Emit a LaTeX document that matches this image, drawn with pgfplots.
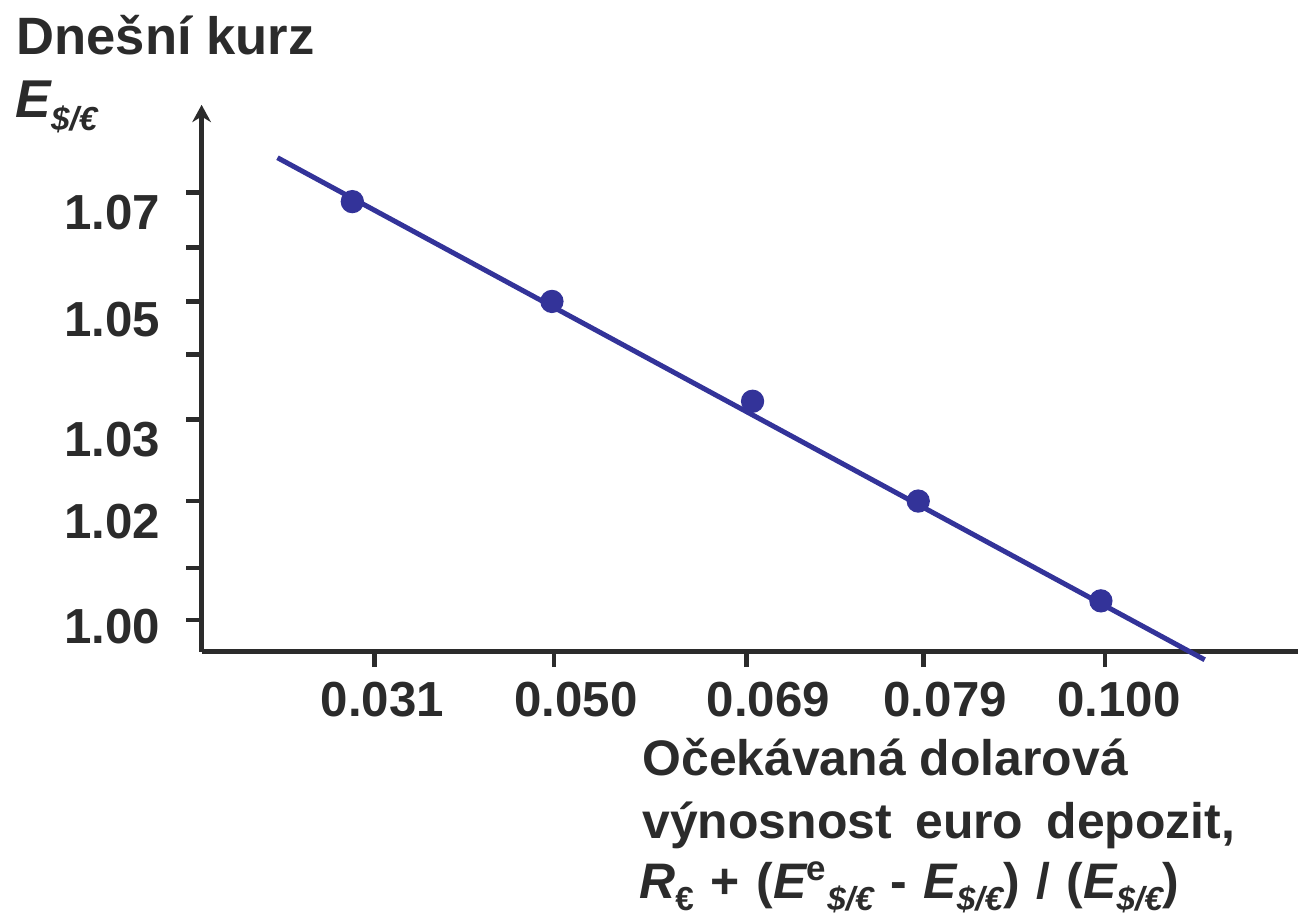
\documentclass[border=0pt]{standalone}
\usepackage{pgfplots}
\pgfplotsset{compat=1.18}
\usepackage{fontspec}
\setmainfont{Liberation Sans}
\usetikzlibrary{arrows.meta}
\definecolor{ink}{HTML}{2B2B2B}
\definecolor{curve}{HTML}{333399}
% lowered small subscript as in the slide
\newcommand\sub[1]{\raisebox{-3.8pt}{\fontsize{10}{11}\selectfont #1}}
\newcommand\wsp{\hspace{7pt}}

\begin{document}
\begin{tikzpicture}
\begin{axis}[
  x=0.3pt, y=0.3pt,
  xmin=202, xmax=1300, ymin=263, ymax=811,
  axis lines*=left,
  axis line style={ink, line width=1.5pt},
  y axis line style={-{Stealth[length=5.2pt,width=5.6pt]}},
  tick align=outside,
  major tick length=4.6pt,
  tick style={ink, line width=1.4pt},
  xtick={375,555,748,925,1107}, xticklabels={},
  ytick={295,347,414,496,561,614,668,723}, yticklabels={},
  extra x ticks={383,577,770,947,1121},
  extra x tick labels={0.031,0.050,0.069,0.079,0.100},
  extra y ticks={271,376,459,579,686},
  extra y tick labels={1.00,1.02,1.03,1.05,1.07},
  extra x tick style={major tick length=0pt,
    xticklabel style={anchor=base, yshift=-19.5pt}},
  extra y tick style={major tick length=0pt,
    yticklabel style={anchor=base east, xshift=-12.3pt}},
  tick label style={font=\bfseries\fontsize{14.8}{17}\selectfont, text=ink, inner sep=0pt},
  clip=false,
]
\path (axis cs:0,0) rectangle (axis cs:1300,916);

% demand curve for euro deposits
\addplot[curve, line width=1.5pt] coordinates {(278,758) (1207,255)};
\addplot[curve, only marks, mark=*, mark size=3.3pt] coordinates {
  (353,714) (553,614) (754,514) (920,414) (1103,314)};

\node[anchor=base west, inner sep=0pt, text=ink, font=\bfseries\fontsize{15.8}{18}\selectfont]
  at (axis cs:16,861) {Dnešní kurz};
\node[anchor=base west, inner sep=0pt, text=ink, font=\bfseries\fontsize{16}{18}\selectfont]
  at (axis cs:15,798) {\itshape E\sub{\$/€}};

\node[anchor=base west, inner sep=0pt, text=ink, font=\bfseries\fontsize{15}{17}\selectfont]
  at (axis cs:643,139) {Očekávaná dolarová};
\node[anchor=base west, inner sep=0pt, text=ink, font=\bfseries\fontsize{15}{17}\selectfont]
  at (axis cs:643,76) {výnosnost\wsp euro\wsp depozit,};
\node[anchor=base west, inner sep=0pt, text=ink, font=\bfseries\fontsize{15}{17}\selectfont]
  at (axis cs:640,16) {{\itshape R}\sub{€}\hspace{5pt}+\hspace{5pt}({\itshape E}\textsuperscript{e}\sub{\itshape\$/€}\hspace{5pt}-\hspace{5pt}{\itshape E}\sub{\itshape\$/€})\hspace{5pt}/\hspace{5pt}({\itshape E}\sub{\itshape\$/€})};
\end{axis}
\end{tikzpicture}
\end{document}
